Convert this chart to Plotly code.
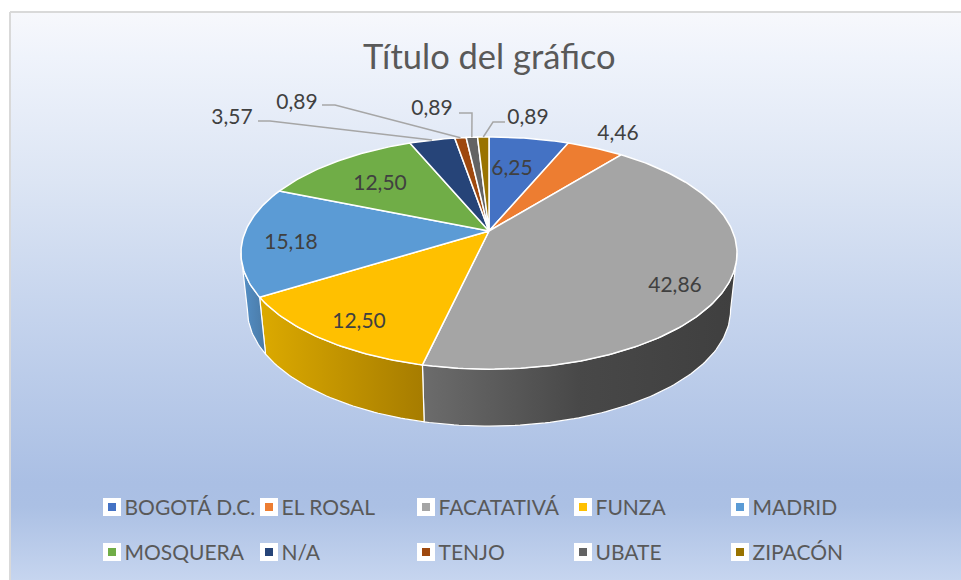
import math
import plotly.graph_objects as go

# ---- data ----
categories = ["BOGOTÁ D.C.", "EL ROSAL", "FACATATIVÁ", "FUNZA", "MADRID",
              "MOSQUERA", "N/A", "TENJO", "UBATE", "ZIPACÓN"]
values = [6.25, 4.46, 42.86, 12.50, 15.18, 12.50, 3.57, 0.89, 0.89, 0.89]
colors = ["#4472C4", "#ED7D31", "#A5A5A5", "#FFC000", "#5B9BD5",
          "#70AD47", "#264478", "#9E480E", "#636363", "#997300"]
title_text = "Título del gráfico"

# ---- layout of the picture (pixel-like axes) ----
CX, CY = 489.0, 231.0
A, B, K = 243.5, 111.9, 0.19          # perspective tilt of the disc
WALL_H, WALL_SCALE = 57.0, 0.974
VIS_FROM, VIS_TO = 101.0, 259.0       # silhouette angles of the side wall
TEXT_DY = 2.5
label_xy = [(512, 167), (618, 132), (675, 284), (359, 320), (291, 241),
            (380, 182), (232, 116), (297, 101), (432, 107), (528, 116)]
leader_from = {6: [(258, 121), (270, 121)], 7: [(322, 105), (335, 105)],
               8: [(459, 113), (472, 113)], 9: [(505, 122), (493, 122)]}
wall_grad = {2: [[0, "#6c6c6c"], [0.5, "#484848"], [1, "#3f3f3f"]],
             3: [[0, "#dcaa00"], [1, "#a67c00"]],
             4: [[0, "#5490c8"], [1, "#4a7aa6"]]}
LEG_X0, LEG_DX, LEG_Y0, LEG_DY = 112, 157, 507, 45


def rim(theta_deg):
    t = math.radians(theta_deg)
    X, Y = math.sin(t), math.cos(t)
    w = 1 + K * Y
    return CX + A * X / w, CY - B * Y / w


def rim_bottom(theta_deg):
    x, y = rim(theta_deg)
    return CX + (x - CX) * WALL_SCALE, y + WALL_H


def arc(a, b, fn):
    n = max(2, int(abs(b - a)) + 2)
    return [fn(a + (b - a) * i / (n - 1)) for i in range(n)]


total = sum(values)
edges = [0.0]
for v in values:
    edges.append(edges[-1] + v / total * 360.0)

fig = go.Figure()

# chart-area background
fig.add_trace(go.Scatter(
    x=[10, 970, 970, 10, 10], y=[12, 12, 590, 590, 12], mode="lines", fill="toself",
    line=dict(color="#d9d9d9", width=2),
    fillgradient=dict(type="vertical", start=12, stop=580, colorscale=[
        [0, "#f7f8fc"], [0.08, "#eff3fb"], [0.3, "#dce5f4"], [0.5, "#c8d6ee"],
        [0.83, "#aabfe4"], [0.87, "#abc0e4"], [1, "#c6d5ef"]]),
    hoverinfo="skip", showlegend=False))

# side walls
for i in range(len(values)):
    a, b = max(edges[i], VIS_FROM), min(edges[i + 1], VIS_TO)
    if a >= b or i not in wall_grad:
        continue
    top = arc(a, b, rim)
    bot = arc(a, b, rim_bottom)
    poly = top + bot[::-1] + [top[0]]
    fig.add_trace(go.Scatter(
        x=[p[0] for p in poly], y=[p[1] for p in poly], mode="lines", fill="toself",
        line=dict(color="#ffffff", width=1.2),
        fillgradient=dict(type="horizontal", colorscale=wall_grad[i]),
        hoverinfo="skip", showlegend=False))

# top slices
for i, name in enumerate(categories):
    pts = [(CX, CY)] + arc(edges[i], edges[i + 1], rim) + [(CX, CY)]
    fig.add_trace(go.Scatter(
        x=[p[0] for p in pts], y=[p[1] for p in pts], mode="lines", fill="toself",
        fillcolor=colors[i], line=dict(color="#ffffff", width=1.5),
        name=name, hoverinfo="name", showlegend=False))

# leader lines
for i, start in leader_from.items():
    end = rim((edges[i] + edges[i + 1]) / 2)
    pts = start + [end]
    fig.add_trace(go.Scatter(
        x=[p[0] for p in pts], y=[p[1] for p in pts], mode="lines",
        line=dict(color="#a6a6a6", width=1.5), hoverinfo="skip", showlegend=False))

# data labels
for i, v in enumerate(values):
    fig.add_trace(go.Scatter(
        x=[label_xy[i][0]], y=[label_xy[i][1] + TEXT_DY], mode="text",
        text=[f"{v:.2f}".replace(".", ",")], textposition="middle center",
        textfont=dict(family="Lato", size=21, color="#404040"),
        hoverinfo="skip", showlegend=False))

# legend
for i, name in enumerate(categories):
    lx = LEG_X0 + LEG_DX * (i % 5)
    ly = LEG_Y0 + LEG_DY * (i // 5)
    fig.add_trace(go.Scatter(
        x=[lx], y=[ly], mode="markers",
        marker=dict(symbol="square", size=14, color="#ffffff",
                    line=dict(color="#ffffff", width=4)),
        hoverinfo="skip", showlegend=False))
    fig.add_trace(go.Scatter(
        x=[lx], y=[ly], mode="markers",
        marker=dict(symbol="square", size=8, color=colors[i]),
        hoverinfo="skip", showlegend=False))
    fig.add_trace(go.Scatter(
        x=[lx + 12.5], y=[ly + TEXT_DY], mode="text", text=[name], textposition="middle right",
        textfont=dict(family="Lato", size=21, color="#595959"),
        hoverinfo="skip", showlegend=False))

fig.add_annotation(x=489, y=55, xref="x", yref="y", text=title_text, showarrow=False,
                   font=dict(family="Lato", size=34.5, color="#595959"))

fig.update_layout(
    width=961, height=580, margin=dict(l=0, r=0, t=0, b=0),
    paper_bgcolor="#ffffff", plot_bgcolor="#ffffff", showlegend=False,
    xaxis=dict(range=[0, 961], visible=False, fixedrange=True),
    yaxis=dict(range=[580, 0], visible=False, fixedrange=True),
)
fig.write_html("out.html", config={"displayModeBar": False},
               post_script="document.body.style.margin='0';document.body.style.overflow='hidden';")
